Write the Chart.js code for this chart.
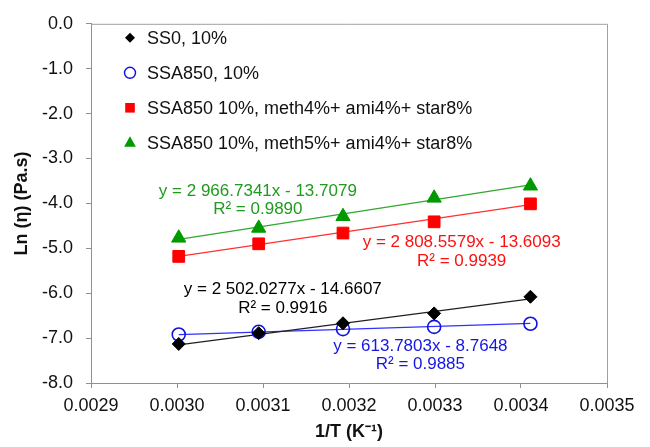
<!DOCTYPE html>
<html>
<head>
<meta charset="utf-8">
<script src="https://cdn.jsdelivr.net/npm/chart.js@4.4.0/dist/chart.umd.min.js"></script>
<style>
    html, body { margin: 0; padding: 0; background: #fff; }
    #wrap { width: 650px; height: 447px; }
</style>
</head>
<body>
<div id="wrap"><canvas id="arrhenius" width="650" height="447"></canvas></div>
<script>
// ------- data -----------

// 1/T (K^-1) for 60, 50, 40, 30 and 20 °C
const invT = [0.003002, 0.003095, 0.003193, 0.003299, 0.003411];

const lnEtaSS0 = [-7.13, -6.89, -6.67, -6.45, -6.08];
const lnEtaSSA850 = [-6.92, -6.86, -6.80, -6.75, -6.68];
const lnEtaMeth4 = [-5.18, -4.90, -4.66, -4.41, -4.01];
const lnEtaMeth5 = [-4.77, -4.55, -4.29, -3.88, -3.61];

const seriesNames = [
    'SS0, 10%',
    'SSA850, 10%',
    'SSA850 10%, meth4%+ ami4%+ star8%',
    'SSA850 10%, meth5%+ ami4%+ star8%'
];

// linear fits as printed next to each series
const fitSlopes = [2502.0277, 613.7803, 2808.5579, 2966.7341];
const fitIntercepts = [-14.6607, -8.7648, -13.6093, -13.7079];
const fitEquations = [
    'y = 2 502.0277x - 14.6607',
    'y = 613.7803x - 8.7648',
    'y = 2 808.5579x - 13.6093',
    'y = 2 966.7341x - 13.7079'
];
const fitR2 = ['R² = 0.9916', 'R² = 0.9885', 'R² = 0.9939', 'R² = 0.9890'];

const xTicks = [0.0029, 0.0030, 0.0031, 0.0032, 0.0033, 0.0034, 0.0035];
const yTicks = [0, -1, -2, -3, -4, -5, -6, -7, -8];

// ------- styling -----------

const FONT = "'Liberation Sans', Arial, sans-serif";
const markerColors = ['#000000', '#1010e0', '#ff0000', '#009a00'];
const lineColors = ['#202020', '#3030ff', '#ff3030', '#2fa82f'];
const labelColors = ['#000000', '#1515e6', '#ff1010', '#1f9a1f'];
const pointStyles = ['rectRot', 'circle', 'rect', 'triangle'];
const pointSizes = [6.5, 6.5, 8.3, 8.2];

// where each equation block sits, in axis units (centre of the first line)
const labelAnchors = [
    { x: 0.003123, y: -5.92 },
    { x: 0.003283, y: -7.18 },
    { x: 0.003331, y: -4.87 },
    { x: 0.003094, y: -3.72 }
];

const series = [lnEtaSS0, lnEtaSSA850, lnEtaMeth4, lnEtaMeth5];

function fitLine(i) {
    const first = invT[0];
    const last = invT[invT.length - 1];
    return [
        { x: first, y: fitSlopes[i] * first + fitIntercepts[i] },
        { x: last, y: fitSlopes[i] * last + fitIntercepts[i] }
    ];
}

const datasets = [];
series.forEach((values, i) => {
    datasets.push({
        label: seriesNames[i] + ' fit',
        data: fitLine(i),
        showLine: true,
        borderColor: lineColors[i],
        borderWidth: 1.2,
        pointRadius: 0,
        order: 2
    });
});
series.forEach((values, i) => {
    datasets.push({
        label: seriesNames[i],
        data: values.map((v, k) => ({ x: invT[k], y: v })),
        showLine: false,
        pointStyle: pointStyles[i],
        pointRadius: pointSizes[i],
        pointBackgroundColor: i === 1 ? 'rgba(0,0,0,0)' : markerColors[i],
        pointBorderColor: markerColors[i],
        pointBorderWidth: i === 1 ? 1.6 : 1,
        order: 1
    });
});

// ------- drawing helpers -----------

function drawMarker(ctx, style, x, y, r, color) {
    ctx.save();
    ctx.fillStyle = color;
    ctx.strokeStyle = color;
    ctx.beginPath();
    if (style === 'rectRot') {
        ctx.moveTo(x - r, y);
        ctx.lineTo(x, y - r);
        ctx.lineTo(x + r, y);
        ctx.lineTo(x, y + r);
        ctx.closePath();
        ctx.fill();
    } else if (style === 'circle') {
        ctx.lineWidth = 1.4;
        ctx.arc(x, y, r, 0, Math.PI * 2);
        ctx.stroke();
    } else if (style === 'rect') {
        ctx.rect(x - r, y - r, 2 * r, 2 * r);
        ctx.fill();
    } else {
        ctx.moveTo(x, y - r);
        ctx.lineTo(x + r * 0.9, y + r * 0.6);
        ctx.lineTo(x - r * 0.9, y + r * 0.6);
        ctx.closePath();
        ctx.fill();
    }
    ctx.restore();
}

const frameAndLabels = {
    id: 'frameAndLabels',
    afterDatasetsDraw(chart) {
        const ctx = chart.ctx;
        const area = chart.chartArea;
        const xs = chart.scales.x;
        const ys = chart.scales.y;

        // plot area border
        ctx.save();
        ctx.strokeStyle = '#a0a0a0';
        ctx.lineWidth = 1;
        ctx.beginPath();
        ctx.moveTo(area.left, area.top + 0.5);
        ctx.lineTo(area.right + 0.5, area.top + 0.5);
        ctx.lineTo(area.right + 0.5, area.bottom);
        ctx.stroke();
        ctx.restore();

        // trendline equations
        ctx.save();
        ctx.font = '17px ' + FONT;
        ctx.textAlign = 'center';
        ctx.textBaseline = 'middle';
        labelAnchors.forEach((a, i) => {
            const px = xs.getPixelForValue(a.x);
            const py = ys.getPixelForValue(a.y);
            ctx.fillStyle = labelColors[i];
            ctx.fillText(fitEquations[i], px, py);
            ctx.fillText(fitR2[i], px, py + 18.5);
        });
        ctx.restore();

        // legend
        ctx.save();
        ctx.font = '18px ' + FONT;
        ctx.textAlign = 'left';
        ctx.textBaseline = 'middle';
        ctx.fillStyle = '#111';
        const legendSizes = [5, 5.5, 4.8, 6.5];
        seriesNames.forEach((name, i) => {
            const rowY = area.top + 14 + i * 35;
            drawMarker(ctx, pointStyles[i], area.left + 39, rowY, legendSizes[i], markerColors[i]);
            ctx.fillText(name, area.left + 56, rowY + 1);
        });
        ctx.restore();
    }
};

// ------- chart -----------

const chartElement = document.getElementById('arrhenius');

new Chart(chartElement, {
    type: 'scatter',
    data: { datasets: datasets },
    options: {
        responsive: false,
        maintainAspectRatio: false,
        animation: false,
        layout: { padding: { left: 0, right: 43, top: 17, bottom: 0 } },
        plugins: {
            legend: { display: false },
            tooltip: { enabled: false }
        },
        scales: {
            x: {
                type: 'linear',
                min: xTicks[0],
                max: xTicks[xTicks.length - 1],
                afterBuildTicks: scale => { scale.ticks = xTicks.map(v => ({ value: v })); },
                afterFit: scale => { scale.height = 64; },
                grid: { drawOnChartArea: false, color: '#909090', tickLength: 5 },
                border: { color: '#909090' },
                ticks: {
                    color: '#111',
                    font: { family: FONT, size: 18 },
                    padding: 7,
                    maxRotation: 0,
                    callback: v => v.toFixed(4)
                },
                title: {
                    display: true,
                    text: '1/T (K⁻¹)',
                    color: '#111',
                    font: { family: FONT, size: 18, weight: 'bold' },
                    padding: { top: 0, bottom: 4 }
                }
            },
            y: {
                type: 'linear',
                min: -8,
                max: 0,
                afterBuildTicks: scale => { scale.ticks = yTicks.map(v => ({ value: v })); },
                afterFit: scale => { scale.width = 91; },
                grid: { drawOnChartArea: false, color: '#909090', tickLength: 5 },
                border: { color: '#909090' },
                ticks: {
                    color: '#111',
                    font: { family: FONT, size: 18 },
                    padding: 13,
                    callback: v => v.toFixed(1)
                },
                title: {
                    display: true,
                    text: 'Ln (η) (Pa.s)',
                    color: '#111',
                    font: { family: FONT, size: 18, weight: 'bold' },
                    padding: { top: 11, bottom: 0 }
                }
            }
        }
    },
    plugins: [frameAndLabels]
});
</script>
</body>
</html>
